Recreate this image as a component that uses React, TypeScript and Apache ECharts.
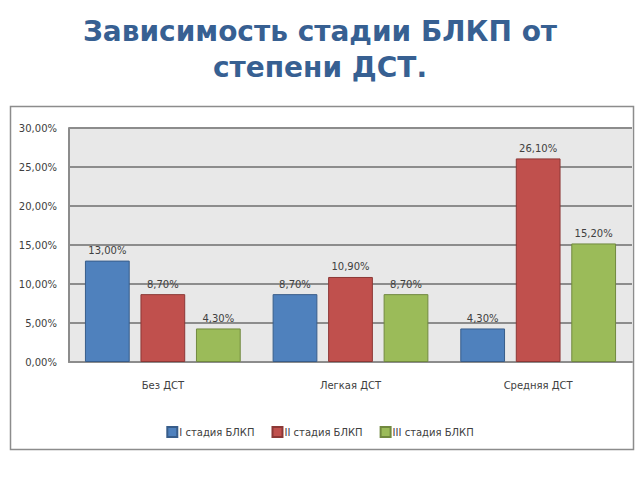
import React, { useEffect, useRef } from "react";
import * as echarts from "echarts";

const categories = ["Без ДСТ", "Легкая ДСТ", "Средняя ДСТ"];
const seriesNames = ["I стадия БЛКП", "II стадия БЛКП", "III стадия БЛКП"];
const stage1 = [13.0, 8.7, 4.3];
const stage2 = [8.7, 10.9, 26.1];
const stage3 = [4.3, 8.7, 15.2];
const yTicks = { min: 0, max: 30, interval: 5 };
const titleText = "Зависимость стадии БЛКП от\nстепени ДСТ.";

const colors = ["#4F81BD", "#C0504D", "#9BBB59"];
const borders = ["#385D8A", "#8C3836", "#71893F"];
const FONT = "DejaVu Sans";

const fmt = (v: number) => v.toFixed(2).replace(".", ",") + "%";

export default function App() {
  const ref = useRef<HTMLDivElement>(null);
  useEffect(() => {
    if (!ref.current) return;
    const chart = echarts.init(ref.current, undefined, { renderer: "svg" });
    const data = [stage1, stage2, stage3];
    chart.setOption({
      animation: false,
      backgroundColor: "#ffffff",
      textStyle: { fontFamily: FONT },
      title: {
        text: titleText,
        left: "center",
        top: 8,
        textStyle: {
          fontFamily: FONT,
          fontSize: 28,
          fontWeight: "bold",
          color: "#376092",
          lineHeight: 36,
        },
      },
      graphic: [
        {
          type: "rect",
          z: -10,
          silent: true,
          shape: { x: 10.5, y: 106.5, width: 623, height: 343 },
          style: { fill: "#ffffff", stroke: "#8C8C8C", lineWidth: 1.5 },
        },
      ],
      grid: {
        left: 69,
        top: 128,
        right: 8,
        bottom: 118,
        show: true,
        backgroundColor: "#E8E8E8",
        borderWidth: 0,
      },
      legend: {
        top: 421,
        left: "center",
        itemWidth: 10,
        itemHeight: 10,
        itemGap: 17,
        icon: "rect",
        textStyle: { fontFamily: FONT, fontSize: 10, color: "#404040", padding: [0, 0, 0, -3] },
        data: seriesNames,
      },
      xAxis: {
        type: "category",
        data: categories,
        axisTick: { show: false },
        axisLine: { show: true, lineStyle: { color: "#8C8C8C", width: 2 } },
        axisLabel: { margin: 18, fontFamily: FONT, fontSize: 10, color: "#404040" },
      },
      yAxis: {
        type: "value",
        min: yTicks.min,
        max: yTicks.max,
        interval: yTicks.interval,
        axisLine: { show: true, lineStyle: { color: "#8C8C8C", width: 2 } },
        axisTick: { show: false },
        axisLabel: {
          margin: 12,
          fontFamily: FONT,
          fontSize: 10,
          color: "#404040",
          formatter: (v: number) => fmt(v),
        },
        splitLine: { show: true, lineStyle: { color: "#8C8C8C", width: 2 } },
      },
      series: seriesNames.map((name, i) => ({
        name,
        type: "bar",
        data: data[i],
        barGap: "24%",
        barCategoryGap: "17%",
        itemStyle: { color: colors[i], borderColor: borders[i], borderWidth: 1 },
        label: {
          show: true,
          position: "top",
          distance: 5,
          fontFamily: FONT,
          fontSize: 10,
          color: "#404040",
          formatter: (p: any) => fmt(p.value),
        },
      })),
    });
    return () => chart.dispose();
  }, []);
  return (
    <div
      ref={ref}
      style={{ position: "fixed", left: 0, top: 0, width: 640, height: 480 }}
    />
  );
}
